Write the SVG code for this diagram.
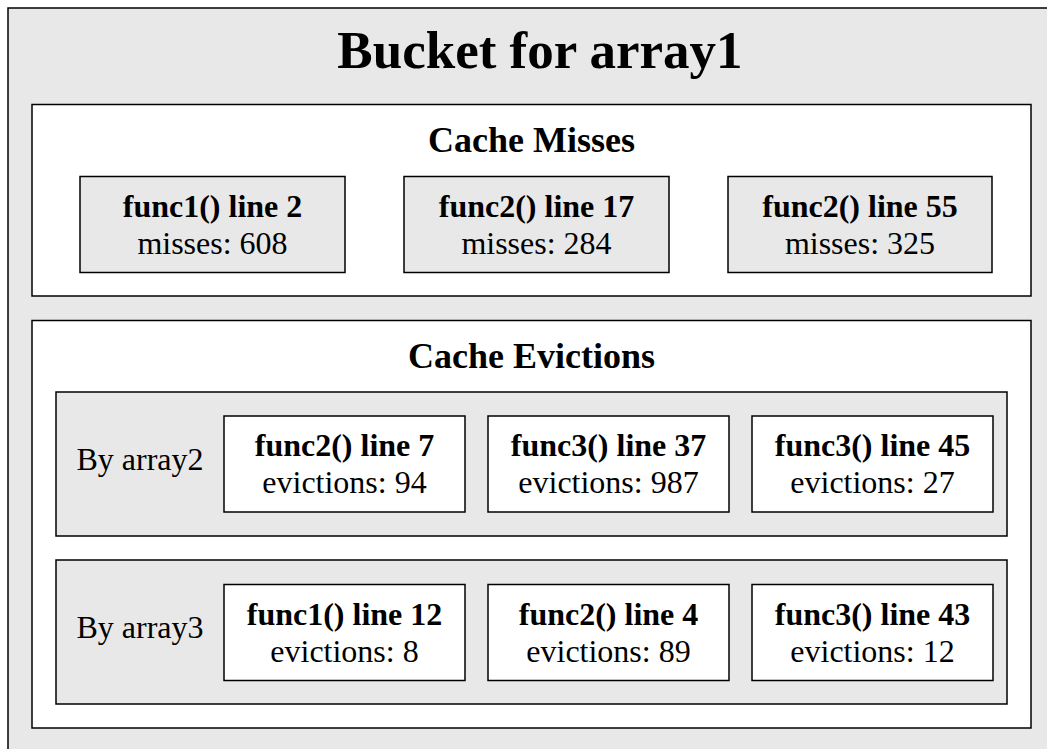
<svg xmlns="http://www.w3.org/2000/svg" width="1047" height="749" viewBox="0 0 1047 749">
<style>
.box{stroke:#000;stroke-width:1.5}
.g{fill:#e8e8e8}
.w{fill:#fff}
text{font-family:"Liberation Serif","Times New Roman",serif;fill:#000;text-anchor:middle}
.t{font-size:53px;font-weight:bold}
.h{font-size:36px;font-weight:bold}
.b{font-size:32px;font-weight:bold}
.r{font-size:32px}
</style>
<rect width="1047" height="749" fill="#ffffff"/>
<g id="bucket">
<rect class="box g" x="8" y="8" width="1100" height="800"/>
<text class="t" x="540" y="68">Bucket for array1</text>
</g>
<g id="cache-misses">
<rect class="box w" x="32" y="104.5" width="999" height="191.5"/>
<text class="h" x="531.5" y="152">Cache Misses</text>
</g>
<g id="miss1">
<rect class="box g" x="80" y="176.5" width="265" height="96"/>
<text class="b" x="212.5" y="217">func1() line 2</text>
<text class="r" x="212.5" y="254">misses: 608</text>
</g>
<g id="miss2">
<rect class="box g" x="404" y="176.5" width="265" height="96"/>
<text class="b" x="536.5" y="217">func2() line 17</text>
<text class="r" x="536.5" y="254">misses: 284</text>
</g>
<g id="miss3">
<rect class="box g" x="728" y="176.5" width="264" height="96"/>
<text class="b" x="860" y="217">func2() line 55</text>
<text class="r" x="860" y="254">misses: 325</text>
</g>
<g id="cache-evictions">
<rect class="box w" x="32" y="320.5" width="999" height="407.5"/>
<text class="h" x="531.5" y="368">Cache Evictions</text>
</g>
<g id="by-array2">
<rect class="box g" x="56" y="392" width="951" height="144"/>
<text class="r" x="140" y="470">By array2</text>
</g>
<g id="ev2-1">
<rect class="box w" x="224" y="416" width="241" height="96"/>
<text class="b" x="344.5" y="456">func2() line 7</text>
<text class="r" x="344.5" y="493">evictions: 94</text>
</g>
<g id="ev2-2">
<rect class="box w" x="488" y="416" width="241" height="96"/>
<text class="b" x="608.5" y="456">func3() line 37</text>
<text class="r" x="608.5" y="493">evictions: 987</text>
</g>
<g id="ev2-3">
<rect class="box w" x="752" y="416" width="241" height="96"/>
<text class="b" x="872.5" y="456">func3() line 45</text>
<text class="r" x="872.5" y="493">evictions: 27</text>
</g>
<g id="by-array3">
<rect class="box g" x="56" y="560" width="951" height="144"/>
<text class="r" x="140" y="638">By array3</text>
</g>
<g id="ev3-1">
<rect class="box w" x="224" y="584.5" width="241" height="96"/>
<text class="b" x="344.5" y="625">func1() line 12</text>
<text class="r" x="344.5" y="662">evictions: 8</text>
</g>
<g id="ev3-2">
<rect class="box w" x="488" y="584.5" width="241" height="96"/>
<text class="b" x="608.5" y="625">func2() line 4</text>
<text class="r" x="608.5" y="662">evictions: 89</text>
</g>
<g id="ev3-3">
<rect class="box w" x="752" y="584.5" width="241" height="96"/>
<text class="b" x="872.5" y="625">func3() line 43</text>
<text class="r" x="872.5" y="662">evictions: 12</text>
</g>
<g id="connectors"></g>
</svg>
